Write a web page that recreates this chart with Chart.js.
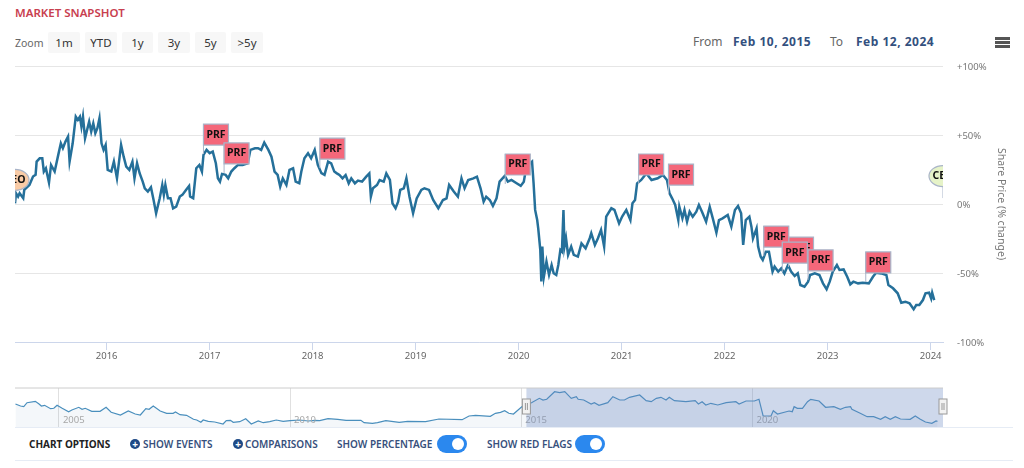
<!DOCTYPE html>
<html>
<head>
<meta charset="utf-8">
<title>Market Snapshot</title>
<script src="https://cdn.jsdelivr.net/npm/chart.js@4"></script>
<style>
  html, body { margin: 0; padding: 0; background: #fff; width: 1024px; height: 468px; overflow: hidden; }
  body { position: relative; font-family: "Noto Sans", sans-serif; }
  canvas { position: absolute; left: 0; }
  .t { position: absolute; white-space: nowrap; line-height: 1; }
  .btn { position: absolute; top: 32px; height: 21px; line-height: 21px; background: #f7f7f7; color: #333; font-size: 11.5px; text-align: center; border-radius: 2px; }
  .opt { position: absolute; top: 438px; font-size: 10px; font-weight: 600; line-height: 12px; color: #37507c; white-space: nowrap; }
  .plus { position: absolute; top: 439px; width: 10px; height: 10px; border-radius: 50%; background: #1f4a86; color: #fff; font-size: 10px; font-weight: 700; line-height: 10px; text-align: center; }
  .toggle { position: absolute; top: 435px; width: 30px; height: 18px; border-radius: 9px; background: #2b88ee; }
  .toggle i { position: absolute; right: 3px; top: 3px; width: 12px; height: 12px; border-radius: 50%; background: #fff; }
  .rule { position: absolute; left: 15px; width: 998px; height: 1px; background: #e6ecf5; }
  .bar { position: absolute; left: 995px; width: 15px; height: 3px; background: #555; }
  .date { top: 36px; font-size: 12px; font-weight: 700; color: #33507e; letter-spacing: .5px; }
</style>
</head>
<body>
<div class="t" style="left:15px;top:7px;font-size:11.5px;font-weight:600;color:#c8404f">MARKET SNAPSHOT</div>
<div class="t" style="left:15px;top:38px;font-size:10.5px;color:#666">Zoom</div>
<div class="btn" style="left:48px;width:32px">1m</div>
<div class="btn" style="left:85px;width:32px">YTD</div>
<div class="btn" style="left:122px;width:31px">1y</div>
<div class="btn" style="left:158px;width:32px">3y</div>
<div class="btn" style="left:195px;width:31px">5y</div>
<div class="btn" style="left:231px;width:32px">&gt;5y</div>
<div class="t" style="left:693px;top:36px;font-size:12px;color:#666">From</div>
<div class="t date" style="left:733px">Feb 10, 2015</div>
<div class="t" style="left:830px;top:36px;font-size:12px;color:#666">To</div>
<div class="t date" style="left:856px">Feb 12, 2024</div>
<div class="bar" style="top:37px"></div>
<div class="bar" style="top:41px"></div>
<div class="bar" style="top:45px"></div>

<canvas id="mainChart" width="1024" height="380" style="top:0"></canvas>
<canvas id="navChart" width="1024" height="50" style="top:380px"></canvas>

<div class="rule" style="top:427px"></div>
<div class="opt" style="left:29px;color:#222;font-weight:700">CHART OPTIONS</div>
<div class="plus" style="left:130px">+</div>
<div class="opt" style="left:143px">SHOW EVENTS</div>
<div class="plus" style="left:233px">+</div>
<div class="opt" style="left:245px">COMPARISONS</div>
<div class="opt" style="left:337px">SHOW PERCENTAGE</div>
<div class="toggle" style="left:437px"><i></i></div>
<div class="opt" style="left:487px">SHOW RED FLAGS</div>
<div class="toggle" style="left:575px"><i></i></div>
<div class="rule" style="top:460px"></div>

<script>
// share price, % change since Feb 2015
const shareYears = [
  2015.11,2015.12,2015.14,2015.155,2015.19,2015.20,2015.25,2015.285,2015.31,2015.32,2015.35,2015.375,2015.39,2015.41,2015.44,2015.46,2015.495,2015.53,2015.555,2015.575,2015.60,2015.625,2015.64,2015.67,2015.70,2015.72,2015.74,2015.755,2015.77,2015.79,2015.81,2015.83,2015.85,2015.87,2015.89,2015.91,2015.93,2015.95,2015.97,2015.99,
  2016.01,2016.045,2016.07,2016.10,2016.12,2016.14,2016.165,2016.19,2016.22,2016.25,2016.27,2016.295,2016.32,2016.35,2016.37,2016.40,2016.43,2016.455,2016.48,2016.515,2016.54,2016.555,2016.57,2016.595,2016.62,2016.645,2016.675,2016.71,2016.735,2016.77,2016.80,2016.81,2016.84,2016.87,2016.90,2016.925,2016.94,2016.97,
  2017.00,2017.03,2017.06,2017.08,2017.10,2017.12,2017.155,2017.18,2017.21,2017.24,2017.275,2017.32,2017.37,2017.395,2017.44,2017.47,2017.50,2017.53,2017.57,2017.60,2017.63,2017.66,2017.685,2017.71,2017.745,2017.775,2017.81,2017.835,2017.87,2017.89,2017.92,2017.955,2017.985,
  2018.02,2018.05,2018.085,2018.115,2018.15,2018.18,2018.21,2018.235,2018.26,2018.29,2018.32,2018.35,2018.375,2018.41,2018.44,2018.48,2018.52,2018.55,2018.565,2018.585,2018.625,2018.65,2018.69,2018.715,2018.75,2018.775,2018.805,2018.83,2018.85,2018.885,2018.91,2018.94,2018.975,
  2019.01,2019.055,2019.085,2019.13,2019.17,2019.22,2019.265,2019.30,2019.325,2019.37,2019.41,2019.445,2019.475,2019.51,2019.56,2019.595,2019.63,2019.66,2019.685,2019.72,2019.75,2019.785,2019.815,2019.865,2019.895,2019.93,2019.98,
  2020.02,2020.05,2020.075,2020.13,2020.145,2020.16,2020.18,2020.19,2020.21,2020.22,2020.23,2020.245,2020.27,2020.295,2020.32,2020.34,2020.365,2020.385,2020.405,2020.42,2020.435,2020.445,2020.46,2020.48,2020.51,2020.535,2020.575,2020.61,2020.65,2020.69,2020.705,2020.74,2020.77,2020.80,2020.83,2020.85,2020.90,2020.93,2020.975,
  2021.005,2021.045,2021.085,2021.105,2021.13,2021.15,2021.19,2021.24,2021.29,2021.35,2021.40,2021.44,2021.465,2021.49,2021.52,2021.55,2021.56,2021.59,2021.61,2021.635,2021.66,2021.69,2021.725,2021.75,2021.78,2021.82,2021.855,2021.885,2021.92,2021.945,2021.98,
  2022.03,2022.065,2022.10,2022.13,2022.16,2022.18,2022.205,2022.24,2022.26,2022.275,2022.31,2022.325,2022.35,2022.37,2022.40,2022.43,2022.465,2022.485,2022.52,2022.55,2022.58,2022.615,2022.645,2022.68,2022.71,2022.735,2022.775,2022.81,2022.83,2022.875,2022.92,2022.955,2022.99,
  2023.02,2023.05,2023.09,2023.115,2023.155,2023.19,2023.22,2023.25,2023.295,2023.34,2023.40,2023.44,2023.47,2023.52,2023.57,2023.59,2023.635,2023.68,2023.715,2023.755,2023.795,2023.835,2023.86,2023.89,2023.925,2023.95,2023.985,
  2024.005,2024.015,2024.035
];
const sharePct = [
  0.5,7.8,5.4,7.8,4.2,10.2,13.8,19.9,21.1,30.7,33.1,33.1,23.5,25.9,15.5,28.3,23.5,35.6,44,40.4,45.2,48.8,30.7,44,63.3,60.9,63.3,56.1,63.3,47.6,53.7,59.7,52.5,58.5,51.3,54.9,62.1,44,39.2,42.8,
  24.7,23.5,30.7,18.6,30.7,42.8,34.3,27.1,24.7,30.7,18.6,29.5,22.3,16.2,11.4,9,12.1,3,-6.7,4.2,13.8,6.6,13.8,4.2,4.2,-3.1,-1.9,5.4,6.6,10.2,13.1,5.4,4.2,25.9,28.3,23.5,35.6,39.2,
  36.8,38,29.5,18.6,16.2,21.8,21.1,18.6,23.5,25.9,28.3,28.3,29.5,39.2,40.4,40.4,39.2,44.5,39.2,34.3,23.5,21.1,12.6,18.6,13.8,24.7,25.9,16.2,15,23.5,33.1,36.8,33.1,
  39.2,28.3,22.3,21.1,30.7,29.5,23.5,22.2,21,18.6,21,15,18.6,15,17,16.2,19.8,22.2,5.3,11.4,13.8,17.4,16.2,22.2,17.4,0.5,-3.1,1.7,10.2,11.4,18.6,5.3,-6.7,
  4.1,10.2,11.4,10.2,2.9,-3.1,2.9,4.1,13.8,9,5.3,18.6,11.4,17.4,18.6,19.8,11.4,1.7,5.3,2.9,-1.4,4.1,16.2,20.3,16.2,17.4,15,
  13.1,16.2,27.1,30.7,15,-4.3,-11.6,-17.6,-33.3,-56.2,-30.9,-52.6,-41.7,-51.4,-44.2,-50.2,-51.4,-44.2,-33.3,-34.5,-4.3,-30.9,-24.8,-36.9,-30.9,-36.9,-38.1,-28.5,-32.1,-24.8,-21.2,-29.7,-24.8,-18.8,-30.9,-9.1,-3.1,-4.3,-14,
  -9.1,-4.3,-11.6,0.5,2.9,15,17.4,22.2,17.4,18.6,21,17.4,7.7,4.1,-0.7,-11.6,-2,-10.4,-4.4,-12.8,-5.6,-9.2,-5.6,-0.7,-5.6,-12.8,-2,-10.4,-20.8,-11.6,-10.4,
  -8,-16.4,-4.4,-1.5,-6.8,-29.7,-11.6,-9.2,-16.4,-24.9,-17.6,-30.9,-38.2,-40.6,-34.6,-34.6,-49,-45.4,-49,-46.6,-50.3,-44.2,-49,-52.2,-50.3,-58.7,-59.9,-56.3,-51.5,-50.3,-51.5,-57.5,-61.8,
  -56.3,-49,-44.2,-47.8,-47.4,-52.7,-58.2,-56.3,-57.5,-57,-57.5,-52.7,-49.8,-50.3,-51.5,-58.7,-61.1,-64.7,-71.5,-70.8,-72,-76.3,-73.2,-73.2,-69.6,-64.7,-64.3,
  -68.4,-64.3,-69.6
];
const mainRange = [2015.11, 2024.12];
const mainTickYears = [2016, 2017, 2018, 2019, 2020, 2021, 2022, 2023, 2024];
const pctTicks = [-100, -50, 0, 50, 100];

// red flags, the one at 2022.62 sits behind its neighbours
const flagYears = [2022.62, 2016.94, 2017.14, 2018.07, 2019.87, 2021.165, 2021.455, 2022.38, 2022.56, 2022.81, 2023.37];
const flagPct = [-45.7, 36.2, 22.5, 26, 14.5, 14.5, 7.2, -37.7, -49.3, -55, -56.5];
const flagText = 'PRF';
const ceoYears = [2015.11, 2024.12];
const ceoPct = [1.5, 4.3];
const ceoText = 'CEO';
const ceoColors = ['#f9cba6', '#e6f3c8'];

// long history for the navigator underneath, relative level
const navYears = [
  2004.06,2004.17,2004.24,2004.31,2004.49,2004.57,2004.62,2004.69,2004.82,2004.89,2004.96,
  2005.07,2005.21,2005.28,2005.43,2005.50,2005.57,2005.71,2005.89,
  2006.02,2006.13,2006.33,2006.50,2006.65,2006.76,2006.88,2006.95,
  2007.04,2007.19,2007.33,2007.47,2007.52,2007.62,2007.76,2007.91,2007.98,
  2008.07,2008.12,2008.23,2008.37,2008.55,2008.62,2008.71,2008.77,2008.91,
  2009.04,2009.16,2009.31,2009.42,2009.56,2009.70,2009.85,
  2010.00,2010.21,2010.39,2010.53,2010.64,2010.82,
  2011.03,2011.21,2011.53,2011.60,2011.78,2011.89,
  2012.07,2012.36,2012.54,2012.93,
  2013.22,2013.72,2013.87,
  2014.01,2014.33,2014.44,2014.55,2014.64,2014.73,2014.83,
  2015.01,2015.22,2015.39,2015.47,2015.55,2015.72,2015.83,2015.94,
  2016.08,2016.19,2016.23,2016.35,2016.51,2016.58,2016.68,2016.87,2016.98,
  2017.13,2017.23,2017.34,2017.56,2017.70,2017.81,2017.92,
  2018.02,2018.13,2018.20,2018.31,2018.56,2018.76,2018.83,2018.91,2018.99,
  2019.10,2019.25,2019.43,2019.64,2019.71,2019.86,
  2020.04,2020.14,2020.23,2020.40,2020.45,2020.54,2020.79,2020.86,2020.90,2020.97,
  2021.08,2021.19,2021.26,2021.44,2021.58,2021.76,2021.90,
  2022.01,2022.12,2022.15,2022.33,2022.48,2022.62,2022.77,2022.87,2022.98,
  2023.09,2023.20,2023.41,2023.52,2023.63,2023.74,2023.88,2023.97,
  2024.00
];
const navLevel = [
  23,21,20.3,24.3,25.7,23,21,21.7,18.3,18.7,21.7,
  18.7,15.3,17,19.7,17.7,18.7,15.7,15.7,
  19.7,14.7,12,16,13,12,18.3,17.7,
  21,16,13.7,13.7,15,12.3,11.7,7.7,7,
  4.7,7,5.7,5,3,6.3,6.7,4.7,5.3,
  8.3,3,6,4.3,5.3,7,5.7,
  6.3,7,6,6.7,6.3,8.3,
  7.7,6.7,6.7,4.3,3.7,4.3,
  6.3,4.7,5.7,5.3,
  8,7.3,11,
  11.7,10.7,13.7,14.7,16.3,13.7,13,
  20.3,24.3,28.7,27,27.7,35.3,34.3,35.3,
  28.7,30.3,27.7,27,23,24.3,21.7,24.3,30.3,
  27,27,29.7,32,26.3,25.3,28.7,
  29.7,27,29.7,26.3,25.3,26.3,23,25.3,22,
  23.7,22,24.3,25.3,23,26,
  26,27.7,11,11,16.3,13,16,15.3,20.3,18.7,
  18.7,25.3,27.7,26,19.7,20.3,17.7,
  19.7,20.3,17.7,13.7,10.3,10.3,7.7,10.3,7.7,
  10.3,8,7.7,11,7.7,5,3.7,6,
  5.7
];
const navRange = [2004.05, 2024.12];
const navTickYears = [2005, 2010, 2015, 2020];
const navSelected = [2015.11, 2024.12];

const fontName = '"Noto Sans", sans-serif';

// PRF flags and CEO balloons hang off the x and y scales
const flagsPlugin = {
  id: 'flags',
  afterDatasetsDraw(chart) {
    const c = chart.ctx, xs = chart.scales.x, ys = chart.scales.y, area = chart.chartArea;
    c.save();
    c.font = 'bold 10.5px ' + fontName;
    c.textAlign = 'center';
    c.textBaseline = 'middle';
    flagYears.forEach((yr, i) => {
      const x = xs.getPixelForValue(yr), y = ys.getPixelForValue(flagPct[i]);
      const top = y - 30;
      c.strokeStyle = '#a9b4c8';
      c.lineWidth = 1;
      c.beginPath();
      c.moveTo(x, top);
      c.lineTo(x, y);
      c.stroke();
      c.fillStyle = '#f4677a';
      c.lineWidth = 1.2;
      c.beginPath();
      c.rect(x, top, 25, 21);
      c.fill();
      c.stroke();
      c.fillStyle = '#111';
      c.fillText(flagText, x + 12.5, top + 10.5);
    });
    // balloons are cut by the plot edges
    c.beginPath();
    c.rect(area.left, area.top, area.right - area.left, area.bottom - area.top);
    c.clip();
    ceoYears.forEach((yr, i) => {
      const x = xs.getPixelForValue(yr), y = ys.getPixelForValue(ceoPct[i]);
      c.strokeStyle = '#a9b4c8';
      c.lineWidth = 1;
      c.beginPath();
      c.moveTo(x, y - 12);
      c.lineTo(x, y);
      c.stroke();
      c.fillStyle = ceoColors[i];
      c.lineWidth = 1.2;
      c.beginPath();
      c.ellipse(x, y - 22, 14, 10.5, 0, 0, Math.PI * 2);
      c.fill();
      c.stroke();
      c.fillStyle = '#111';
      c.fillText(ceoText, x, y - 22);
    });
    c.restore();
  }
};

new Chart(document.getElementById('mainChart'), {
  type: 'line',
  data: {
    datasets: [{
      data: shareYears.map((x, i) => ({ x: x, y: sharePct[i] })),
      borderColor: '#25709a',
      borderWidth: 2.5,
      pointRadius: 0,
      tension: 0,
      fill: false
    }]
  },
  plugins: [flagsPlugin],
  options: {
    responsive: false,
    animation: false,
    layout: { padding: { left: 15, top: 66, right: 0, bottom: 0 } },
    plugins: { legend: { display: false }, tooltip: { enabled: false } },
    scales: {
      x: {
        type: 'linear',
        min: mainRange[0],
        max: mainRange[1],
        afterBuildTicks: s => { s.ticks = mainTickYears.map(v => ({ value: v })); },
        afterFit: s => { s.height = 38; },
        grid: { drawOnChartArea: false, tickLength: 8, color: '#ccd6eb' },
        border: { color: '#ccd6eb' },
        ticks: {
          color: '#666', padding: 1, autoSkip: false, maxRotation: 0,
          font: { family: fontName, size: 9.5 },
          callback: v => String(v)
        }
      },
      y: {
        position: 'right',
        min: -100,
        max: 100,
        afterBuildTicks: s => { s.ticks = pctTicks.map(v => ({ value: v })); },
        afterFit: s => { s.width = 81; },
        grid: { color: '#e6e6e6', drawTicks: false },
        border: { display: false },
        ticks: {
          color: '#777', padding: 14, labelOffset: 1,
          font: { family: fontName, size: 9.5 },
          callback: v => (v > 0 ? '+' : '') + v + '%'
        },
        title: {
          display: true,
          text: 'Share Price (% change)',
          color: '#777',
          padding: { top: 17, bottom: 0 },
          font: { family: fontName, size: 10.5 }
        }
      }
    }
  }
});

// year labels inside the navigator, selected window and its two handles
const navMaskPlugin = {
  id: 'navMask',
  afterDatasetsDraw(chart) {
    const c = chart.ctx, xs = chart.scales.x, area = chart.chartArea;
    const a = xs.getPixelForValue(navSelected[0]), b = xs.getPixelForValue(navSelected[1]);
    c.save();
    c.font = '9.5px ' + fontName;
    c.fillStyle = '#a8a8a8';
    c.textAlign = 'left';
    c.textBaseline = 'middle';
    navTickYears.forEach(yr => {
      c.fillText(String(yr), xs.getPixelForValue(yr) + 4, area.bottom - 7);
    });
    c.fillStyle = 'rgba(102,133,194,0.32)';
    c.fillRect(a, area.top, b - a, area.bottom - area.top);
    c.strokeStyle = '#ccc';
    c.lineWidth = 1;
    c.beginPath();
    c.moveTo(area.left, area.top);
    c.lineTo(area.right, area.top);
    c.stroke();
    [a, b].forEach(x => {
      c.fillStyle = '#f2f2f2';
      c.strokeStyle = '#999';
      c.fillRect(x - 4, 19, 8, 15);
      c.strokeRect(x - 4, 19, 8, 15);
      c.beginPath();
      c.moveTo(x - 1, 23);
      c.lineTo(x - 1, 30);
      c.moveTo(x + 1, 23);
      c.lineTo(x + 1, 30);
      c.stroke();
    });
    c.restore();
  }
};

new Chart(document.getElementById('navChart'), {
  type: 'line',
  data: {
    datasets: [{
      data: navYears.map((x, i) => ({ x: x, y: navLevel[i] })),
      borderColor: '#4a8fbd',
      borderWidth: 1.2,
      backgroundColor: 'rgba(69,114,167,0.06)',
      pointRadius: 0,
      tension: 0,
      fill: 'start'
    }]
  },
  plugins: [navMaskPlugin],
  options: {
    responsive: false,
    animation: false,
    layout: { padding: { left: 15, top: 8, right: 81, bottom: 3 } },
    plugins: { legend: { display: false }, tooltip: { enabled: false } },
    scales: {
      x: {
        type: 'linear',
        min: navRange[0],
        max: navRange[1],
        afterBuildTicks: s => { s.ticks = navTickYears.map(v => ({ value: v })); },
        afterFit: s => { s.height = 0; },
        grid: { color: '#e0e0e0', drawTicks: false },
        border: { color: '#e6ecf5' },
        ticks: { display: false }
      },
      y: { display: false, min: 0, max: 39 }
    }
  }
});
</script>
</body>
</html>
